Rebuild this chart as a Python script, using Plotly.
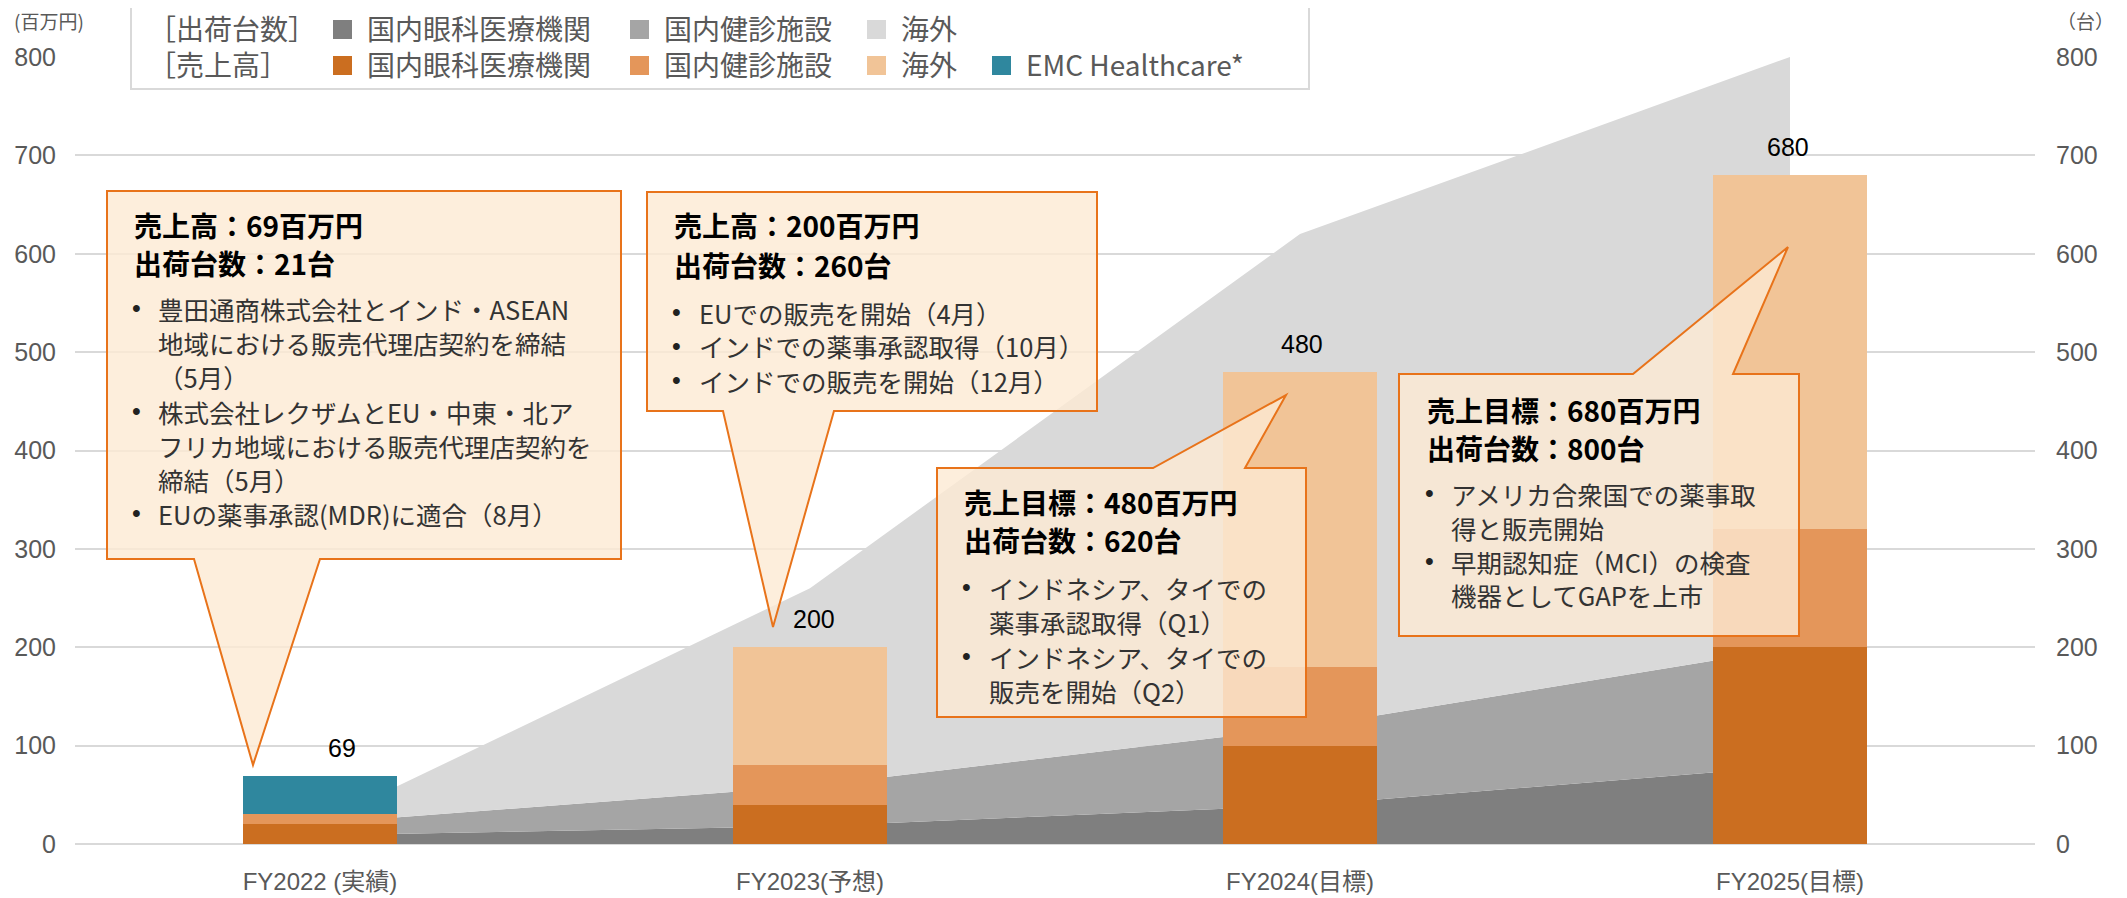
import plotly.graph_objects as go

# ---------------- data ----------------
categories = ["FY2022 (実績)", "FY2023(予想)", "FY2024(目標)", "FY2025(目標)"]

# 出荷台数 (台) – right axis, stacked areas
units_ophth = [9, 18, 39, 79]        # 国内眼科医療機関
units_checkup = [12, 41, 79, 120]    # 国内健診施設
units_overseas = [0, 201, 502, 601]  # 海外

# 売上高 (百万円) – left axis, stacked bars
sales_ophth = [20, 40, 100, 200]
sales_checkup = [10, 40, 80, 120]
sales_overseas = [0, 120, 300, 360]
sales_emc = [39, 0, 0, 0]

axis_ticks = [0, 100, 200, 300, 400, 500, 600, 700, 800]

callout_titles = [
    ["売上高：69百万円", "出荷台数：21台"],
    ["売上高：200百万円", "出荷台数：260台"],
    ["売上目標：480百万円", "出荷台数：620台"],
    ["売上目標：680百万円", "出荷台数：800台"],
]
callout_lines = [
    [(True, "豊田通商株式会社とインド・ASEAN"), (False, "地域における販売代理店契約を締結"),
     (False, "（5月）"), (True, "株式会社レクザムとEU・中東・北ア"),
     (False, "フリカ地域における販売代理店契約を"), (False, "締結（5月）"),
     (True, "EUの薬事承認(MDR)に適合（8月）")],
    [(True, "EUでの販売を開始（4月）"), (True, "インドでの薬事承認取得（10月）"),
     (True, "インドでの販売を開始（12月）")],
    [(True, "インドネシア、タイでの"), (False, "薬事承認取得（Q1）"),
     (True, "インドネシア、タイでの"), (False, "販売を開始（Q2）")],
    [(True, "アメリカ合衆国での薬事取"), (False, "得と販売開始"),
     (True, "早期認知症（MCI）の検査"), (False, "機器としてGAPを上市")],
]

# ---------------- styles ----------------
OFF = 8                      # page body margin of the browser
W, H = 2127 - OFF, 898 - OFF
PL, PR, PT, PB = 75, 2035, 57, 844   # plot area in window pixels
ML, MT = PL - OFF, PT - OFF
MR = W - (PR - OFF)
MB = H - (PB - OFF)
PW, PH = PR - PL, PB - PT

GRAY1, GRAY2, GRAY3 = "#7f7f7f", "#a5a5a5", "#d9d9d9"
OR1, OR2, OR3, TEAL = "#cb6e20", "#e4965a", "#f1c497", "#2f879e"
CJK = "Noto Sans CJK JP"
LAT = "Liberation Sans, Arial, Noto Sans CJK JP"
BORDER = "#e8731a"
FILL = "rgba(253,234,211,0.80)"


def px(xp):
    return (xp - PL) / PW


def py(yp):
    return (PB - yp) / PH


xs = list(range(len(categories)))
fig = go.Figure()

# stacked areas (units, primary y on the right)
for name, vals, col in [("国内眼科医療機関", units_ophth, GRAY1),
                        ("国内健診施設", units_checkup, GRAY2),
                        ("海外", units_overseas, GRAY3)]:
    fig.add_trace(go.Scatter(x=xs, y=vals, name=name, stackgroup="units", mode="lines",
                             line=dict(width=0, color=col), fillcolor=col,
                             yaxis="y", showlegend=False))

# stacked bars (sales, y2 on the left)
for name, vals, col in [("国内眼科医療機関", sales_ophth, OR1),
                        ("国内健診施設", sales_checkup, OR2),
                        ("海外", sales_overseas, OR3),
                        ("EMC Healthcare*", sales_emc, TEAL)]:
    fig.add_trace(go.Bar(x=xs, y=vals, name=name, marker=dict(color=col, line=dict(width=0)),
                         width=0.3125, yaxis="y2", showlegend=False))

totals = [a + b + c + d for a, b, c, d in zip(sales_ophth, sales_checkup, sales_overseas, sales_emc)]

annotations = []
label_xshift = [22, 4, 2, -2]
for i, t in enumerate(totals):
    annotations.append(dict(x=xs[i], y=t, xref="x", yref="y2", text=str(t), showarrow=False,
                            yshift=28, xshift=label_xshift[i],
                            font=dict(family=LAT, size=25, color="#000000")))

shapes = []

# ---------------- callouts ----------------
callout_geo = [
    dict(L=107, R=621, T=191, B=559, side="bottom", a=194, b=320, tip=(253, 765)),
    dict(L=647, R=1097, T=192, B=411, side="bottom", a=723, b=834, tip=(773, 627)),
    dict(L=937, R=1306, T=468, B=717, side="top", a=1153, b=1245, tip=(1286, 395)),
    dict(L=1399, R=1799, T=374, B=636, side="top", a=1633, b=1733, tip=(1788, 247)),
]


def P(xp, yp):
    return f"{px(xp):.5f},{py(yp):.5f}"


for g in callout_geo:
    L, R, T, B = g["L"], g["R"], g["T"], g["B"]
    tx, ty = g["tip"]
    if g["side"] == "bottom":
        pts = [(L, T), (R, T), (R, B), (g["b"], B), (tx, ty), (g["a"], B), (L, B)]
    else:
        pts = [(L, T), (g["a"], T), (tx, ty), (g["b"], T), (R, T), (R, B), (L, B)]
    path = "M " + " L ".join(P(*p) for p in pts) + " Z"
    shapes.append(dict(type="path", path=path, xref="paper", yref="paper",
                       fillcolor=FILL, line=dict(color=BORDER, width=2), layer="above"))

callout_text_pos = [
    dict(x=133, tx=157, ty=[225, 263], ly=[308, 342, 376, 411, 445, 479, 513]),
    dict(x=673, tx=698, ty=[225, 265], ly=[312, 346, 380]),
    dict(x=963, tx=988, ty=[502, 540], ly=[587, 621, 656, 690]),
    dict(x=1426, tx=1450, ty=[410, 448], ly=[493, 527, 561, 595]),
]

for titles, lines, pos in zip(callout_titles, callout_lines, callout_text_pos):
    for t, yv in zip(titles, pos["ty"]):
        annotations.append(dict(x=px(pos["x"]), y=py(yv), xref="paper", yref="paper",
                                xanchor="left", yanchor="middle", showarrow=False, borderpad=0,
                                text=f"<b>{t}</b>",
                                font=dict(family=CJK, size=28, color="#000000")))
    for (bullet, t), yv in zip(lines, pos["ly"]):
        if bullet:
            annotations.append(dict(x=px(pos["x"] - 2), y=py(yv), xref="paper", yref="paper",
                                    xanchor="left", yanchor="middle", showarrow=False, borderpad=0,
                                    text="•", font=dict(family=LAT, size=25, color="#222222")))
        annotations.append(dict(x=px(pos["tx"]), y=py(yv), xref="paper", yref="paper",
                                xanchor="left", yanchor="middle", showarrow=False, borderpad=0,
                                text=t, font=dict(family=CJK, size=25.5, color="#333333")))

# ---------------- custom legend ----------------
shapes.append(dict(type="rect", xref="paper", yref="paper",
                   x0=px(131), x1=px(1309), y0=py(89), y1=py(5),
                   fillcolor="#ffffff", line=dict(color="#d9d9d9", width=2), layer="above"))

legend_rows = [
    ("［出荷台数］", 28, [("国内眼科医療機関", GRAY1, 333), ("国内健診施設", GRAY2, 630), ("海外", GRAY3, 867)]),
    ("［売上高］", 64, [("国内眼科医療機関", OR1, 333), ("国内健診施設", OR2, 630), ("海外", OR3, 867),
                      ("EMC Healthcare*", TEAL, 992)]),
]
LEG_COL = "#595959"
for head, yc, items in legend_rows:
    annotations.append(dict(x=px(146), y=py(yc), xref="paper", yref="paper", xanchor="left",
                            yanchor="middle", showarrow=False, text=head,
                            font=dict(family=CJK, size=28, color=LEG_COL)))
    for label, col, x0 in items:
        shapes.append(dict(type="rect", xref="paper", yref="paper",
                           x0=px(x0), x1=px(x0 + 19), y0=py(yc + 11), y1=py(yc - 8),
                           fillcolor=col, line=dict(width=0), layer="above"))
        annotations.append(dict(x=px(x0 + 32), y=py(yc), xref="paper", yref="paper",
                                xanchor="left", yanchor="middle", showarrow=False, text=label,
                                font=dict(family=CJK, size=28, color=LEG_COL)))

# axis unit labels
annotations.append(dict(x=px(49), y=py(21), xref="paper", yref="paper", xanchor="center",
                        yanchor="middle", showarrow=False, text="(百万円)",
                        font=dict(family=CJK, size=19, color=LEG_COL)))
annotations.append(dict(x=px(2085), y=py(21), xref="paper", yref="paper", xanchor="center",
                        yanchor="middle", showarrow=False, text="（台）",
                        font=dict(family=CJK, size=19, color=LEG_COL)))

fig.update_layout(
    width=W, height=H,
    margin=dict(l=ML, r=MR, t=MT, b=MB, autoexpand=False),
    paper_bgcolor="#ffffff", plot_bgcolor="#ffffff",
    barmode="stack", bargap=0,
    showlegend=False,
    xaxis=dict(range=[-0.5, len(categories) - 0.5], tickvals=xs, ticktext=categories,
               showgrid=False, zeroline=False, showline=False, ticks="",
               tickfont=dict(family=LAT, size=24, color=LEG_COL), ticklabelstandoff=21,
               automargin=False, fixedrange=True),
    yaxis=dict(range=[0, 800], tickvals=axis_ticks, side="right",
               showgrid=True, gridcolor="#d9d9d9", gridwidth=2,
               zeroline=True, zerolinecolor="#d9d9d9", zerolinewidth=2,
               showline=False, ticks="", tickfont=dict(family=LAT, size=25, color=LEG_COL),
               ticklabelstandoff=20, automargin=False),
    yaxis2=dict(range=[0, 800], tickvals=axis_ticks, side="left", overlaying="y",
                showgrid=False, zeroline=False, showline=False, ticks="",
                tickfont=dict(family=LAT, size=25, color=LEG_COL),
                ticklabelstandoff=18, automargin=False),
    shapes=shapes,
    annotations=annotations,
)

fig.write_html("out.html")
